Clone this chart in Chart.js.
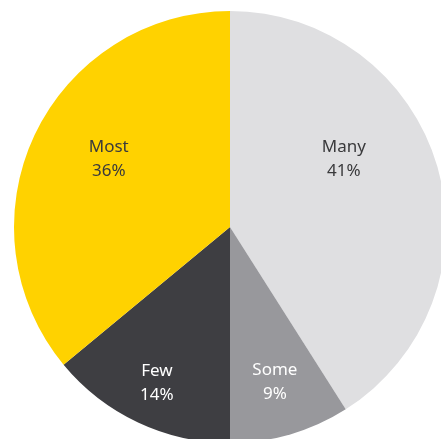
<!DOCTYPE html>
<html>
<head>
<meta charset="utf-8">
<script src="https://cdn.jsdelivr.net/npm/chart.js@4.4.1/dist/chart.umd.min.js"></script>
<style>
  html, body { margin: 0; padding: 0; background: #fff; }
  #wrap { position: relative; width: 441px; height: 439px; overflow: hidden; }
  #chart { position: absolute; left: 0; top: 0; }
</style>
</head>
<body>
<div id="wrap"><canvas id="chart" width="460" height="454"></canvas></div>
<script>
// slices, clockwise from 12 o'clock
const categories = ["Many", "Some", "Few", "Most"];
const shares = [41, 9, 14, 36];
const sliceColors = ["#dfdfe1", "#98989c", "#3e3e42", "#ffd200"];
const textColors = ["#3a3a3c", "#ffffff", "#ffffff", "#3a3a3c"];

// where each label sits: angle (deg, clockwise from top) and fraction of radius
const labelSpots = [
  { angle: 59, dist: 0.615 },
  { angle: 163.8, dist: 0.745 },
  { angle: 205.2, dist: 0.795 },
  { angle: 299.5, dist: 0.645 }
];

const sliceLabels = {
  id: "sliceLabels",
  afterDatasetsDraw(chart) {
    const ctx = chart.ctx;
    const meta = chart.getDatasetMeta(0);
    ctx.save();
    ctx.font = "17px 'Noto Sans', sans-serif";
    ctx.textAlign = "center";
    ctx.textBaseline = "middle";
    meta.data.forEach((arc, i) => {
      const spot = labelSpots[i];
      const a = (spot.angle - 90) * Math.PI / 180;
      const r = arc.outerRadius * spot.dist;
      const x = arc.x + Math.cos(a) * r;
      const y = arc.y + Math.sin(a) * r + 1;
      ctx.fillStyle = textColors[i];
      ctx.fillText(categories[i], x, y - 12);
      ctx.fillText(shares[i] + "%", x, y + 12);
    });
    ctx.restore();
  }
};

new Chart(document.getElementById("chart"), {
  type: "pie",
  data: {
    labels: categories,
    datasets: [{
      data: shares,
      backgroundColor: sliceColors,
      borderWidth: 0
    }]
  },
  options: {
    responsive: false,
    animation: false,
    layout: { padding: 11 },
    plugins: {
      legend: { display: false },
      tooltip: { enabled: false }
    }
  },
  plugins: [sliceLabels]
});
</script>
</body>
</html>
